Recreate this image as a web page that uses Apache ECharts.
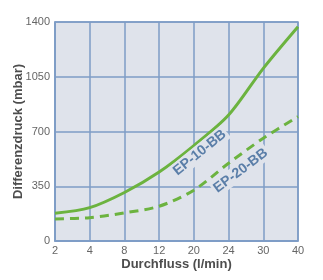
<!DOCTYPE html>
<html><head><meta charset="utf-8">
<script src="https://cdn.jsdelivr.net/npm/echarts@6/dist/echarts.min.js"></script>
<style>html,body{margin:0;padding:0;background:#fff}#c{width:323px;height:280px}</style>
</head><body><div id="c"></div>
<script>
const categories = ['2','4','8','12','20','24','30','40'];
const ep10 = [177, 213, 310, 441, 610, 805, 1104, 1370];
const ep20 = [141, 149, 180, 222, 325, 497, 657, 795];
const yTicks = [0, 350, 700, 1050, 1400];
const seriesNames = ['EP-10-BB', 'EP-20-BB'];

const chart = echarts.init(document.getElementById('c'), null, {renderer:'canvas'});
const blue = '#7e9cc6';
const green = '#6cb33f';
chart.setOption({
  animation:false,
  backgroundColor:'#fff',
  grid:{left:55, right:25, top:22, bottom:39, outerBoundsMode:'none', containLabel:false, show:true, backgroundColor:'#dfe3eb', borderColor:blue, borderWidth:1.5},
  xAxis:{type:'category', data:categories, boundaryGap:false,
    name:'Durchfluss (l/min)', nameLocation:'middle', nameGap:17, nameMoveOverlap:false,
    nameTextStyle:{fontFamily:'Liberation Sans', fontWeight:'bold', fontSize:13, color:'#4d4d4d'},
    axisLine:{show:true, lineStyle:{color:blue, width:1.5}}, axisTick:{show:false},
    axisLabel:{fontFamily:'Liberation Sans', fontSize:11, color:'#666', margin:4, showMinLabel:true, showMaxLabel:true, interval:0},
    splitLine:{show:true, lineStyle:{color:blue, width:1.5}}},
  yAxis:{type:'value', min:yTicks[0], max:yTicks[yTicks.length-1], interval:350,
    name:'Differenzdruck (mbar)', nameLocation:'middle', nameGap:30, nameMoveOverlap:false,
    nameTextStyle:{fontFamily:'Liberation Sans', fontWeight:'bold', fontSize:13, color:'#4d4d4d'},
    axisLine:{show:true, lineStyle:{color:blue, width:1.5}}, axisTick:{show:false},
    axisLabel:{fontFamily:'Liberation Sans', fontSize:11, color:'#666', margin:5, formatter:v => String(v)},
    splitLine:{show:true, lineStyle:{color:blue, width:1.5}}},
  series:[
    {name:seriesNames[0], type:'line', data:ep10, smooth:0.3, symbol:'none', z:5,
     lineStyle:{color:green, width:3}},
    {name:seriesNames[1], type:'line', data:ep20, smooth:0.3, symbol:'none', z:5,
     lineStyle:{color:green, width:3, type:[9,6]}}
  ]
});

function at(si, fx, v){
  const i = Math.floor(fx), t = fx - i;
  const a = chart.convertToPixel({seriesIndex:si}, [i, v]);
  const b = chart.convertToPixel({seriesIndex:si}, [i+1, v]);
  return [a[0] + (b[0]-a[0])*t, a[1]];
}
function place(){
  const p1 = at(0, 4.17, 565);
  const p2 = at(1, 5.35, 450);
  const common = {fontFamily:'Liberation Sans', fontWeight:'bold', fontSize:14, fill:'#5a7ea8',
    align:'center', verticalAlign:'middle', backgroundColor:'#dfe3eb', padding:[1,2]};
  chart.setOption({graphic:[
    {type:'text', x:p1[0], y:p1[1], rotation:39*Math.PI/180, z:10, style:Object.assign({text:seriesNames[0]}, common)},
    {type:'text', x:p2[0], y:p2[1], rotation:37*Math.PI/180, z:10, style:Object.assign({text:seriesNames[1]}, common)}
  ]});
}
place();
</script></body></html>
